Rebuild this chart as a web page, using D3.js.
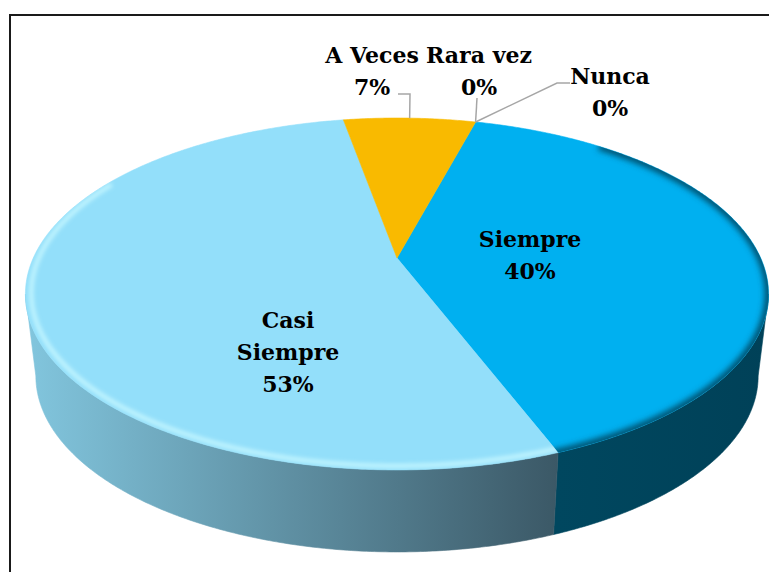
<!DOCTYPE html>
<html>
<head>
<meta charset="utf-8">
<script src="https://cdn.jsdelivr.net/npm/d3@7"></script>
<style>
  body { margin: 0; background: #fff; }
  svg { display: block; }
</style>
</head>
<body>
<script>
// Data
const categories = ["Siempre", "Casi Siempre", "A Veces", "Rara vez", "Nunca"];
const percents = [40, 53, 7, 0, 0];
const labelLines = [["Siempre"], ["Casi", "Siempre"], ["A Veces"], ["Rara vez"], ["Nunca"]];

// Styles
const topColors = ["#00B0F0", "#93DFFA", "#F9BA00", "#C0504D", "#8064A2"];
const sideColors = [["#00475F", "#004158"], ["#82C6DE", "#3B5866"], ["#C89600", "#C89600"], ["#000", "#000"], ["#000", "#000"]];

// Layout for the labels (Excel-like manual placement)
const labelPos = [
  { x: 530, y: 247 },
  { x: 288, y: 328 },
  { x: 372, y: 63 },
  { x: 479, y: 63 },
  { x: 610, y: 84 }
];
const leaderElbows = [null, null, [[398, 94], [410, 94]], [[477, 98]], [[570, 83], [557, 83]]];

const width = 769, height = 572;
// 3D projection parameters
const cx = 397, cy = 258, R = 363.7, Ry = 168.6, persp = 0.2045, thick = 82, shrink = 0.028;
const deg = Math.PI / 180;

function proj(theta, r = 1, z = 0) {
  const u = r * Math.sin(theta), v = -r * Math.cos(theta);
  const w = 1 - persp * v;
  const k = 1 - shrink * z / thick;
  return [cx + k * R * u / w, cy + Ry * v / w + z];
}
function arcPoints(a0, a1, r = 1, z = 0) {
  const n = Math.max(2, Math.ceil(Math.abs(a1 - a0) / (0.5 * deg)));
  return d3.range(n + 1).map(i => proj(a0 + (a1 - a0) * i / n, r, z));
}

const svg = d3.select("body").append("svg")
  .attr("width", width).attr("height", height)
  .attr("viewBox", [0, 0, width, height]);

const defs = svg.append("defs");
defs.append("filter").attr("id", "blur").attr("x", "-20%").attr("y", "-20%").attr("width", "140%").attr("height", "140%")
  .append("feGaussianBlur").attr("stdDeviation", 2);
defs.append("filter").attr("id", "blur2").attr("x", "-20%").attr("y", "-20%").attr("width", "140%").attr("height", "140%")
  .append("feGaussianBlur").attr("stdDeviation", 3);

// Chart border
svg.append("rect")
  .attr("x", 10).attr("y", 15).attr("width", 820).attr("height", 620)
  .attr("fill", "none").attr("stroke", "#1a1a1a").attr("stroke-width", 2);

const pie = d3.pie().value(d => d).sort(null)
  .startAngle(15 * deg).endAngle(15 * deg + 2 * Math.PI);
const arcs = pie(percents);

const line = d3.line();
const closed = d3.line().curve(d3.curveLinearClosed);

// Visible front wall range (silhouette points)
const visA = Math.acos(-persp), visB = 2 * Math.PI - Math.acos(-persp);

// Side walls
const gWall = svg.append("g");
arcs.forEach((a, i) => {
  const s = Math.max(a.startAngle, visA), e = Math.min(a.endAngle, visB);
  if (e <= s) return;
  const topEdge = arcPoints(s, e);
  const botEdge = arcPoints(e, s, 1, thick);
  const xs = topEdge.map(p => p[0]);
  const gid = "side" + i;
  const grad = defs.append("linearGradient").attr("id", gid)
    .attr("gradientUnits", "userSpaceOnUse")
    .attr("x1", d3.min(xs)).attr("x2", d3.max(xs)).attr("y1", 0).attr("y2", 0);
  grad.append("stop").attr("offset", 0).attr("stop-color", sideColors[i][0]);
  grad.append("stop").attr("offset", 1).attr("stop-color", sideColors[i][1]);
  gWall.append("path")
    .attr("d", closed(topEdge.concat(botEdge)))
    .attr("fill", `url(#${gid})`)
    .attr("stroke", `url(#${gid})`).attr("stroke-width", 0.6);
});

// Top faces
const gTop = svg.append("g");
arcs.forEach((a, i) => {
  if (a.endAngle - a.startAngle <= 0) return;
  const pts = [proj(0, 0)].concat(arcPoints(a.startAngle, a.endAngle));
  const d = closed(pts);
  gTop.append("path")
    .attr("d", d)
    .attr("fill", topColors[i])
    .attr("stroke", topColors[i]).attr("stroke-width", 0.6);
  defs.append("clipPath").attr("id", "clip" + i).append("path").attr("d", d);
});

// Bevel shading along the front rim
const bevel = svg.append("g");
bevel.append("path")
  .attr("clip-path", "url(#clip0)")
  .attr("d", line(arcPoints(arcs[0].startAngle + 25 * deg, arcs[0].endAngle + 2 * deg, 1.0)))
  .attr("fill", "none").attr("stroke", "#00455E").attr("stroke-width", 7)
  .attr("filter", "url(#blur2)");
bevel.append("path")
  .attr("clip-path", "url(#clip1)")
  .attr("d", line(arcPoints(arcs[1].startAngle - 2 * deg, arcs[1].startAngle + 140 * deg, 0.985)))
  .attr("fill", "none").attr("stroke", "#C6F7FF").attr("stroke-width", 4)
  .attr("filter", "url(#blur)");

// Leader lines
const gLead = svg.append("g");
arcs.forEach((a, i) => {
  if (!leaderElbows[i]) return;
  const mid = (a.startAngle + a.endAngle) / 2;
  gLead.append("path")
    .attr("d", line(leaderElbows[i].concat([proj(mid)])))
    .attr("fill", "none").attr("stroke", "#A6A6A6").attr("stroke-width", 1.5);
});

// Labels
const gLab = svg.append("g")
  .attr("font-family", "'DejaVu Serif', serif")
  .attr("font-weight", "bold")
  .attr("font-size", 22)
  .attr("fill", "#000")
  .attr("text-anchor", "middle");
arcs.forEach((a, i) => {
  const lines = labelLines[i].concat([`${percents[i]}%`]);
  const t = gLab.append("text").attr("x", labelPos[i].x).attr("y", labelPos[i].y);
  lines.forEach((s, k) => {
    t.append("tspan").attr("x", labelPos[i].x).attr("dy", k === 0 ? 0 : 32).text(s);
  });
});
</script>
</body>
</html>
